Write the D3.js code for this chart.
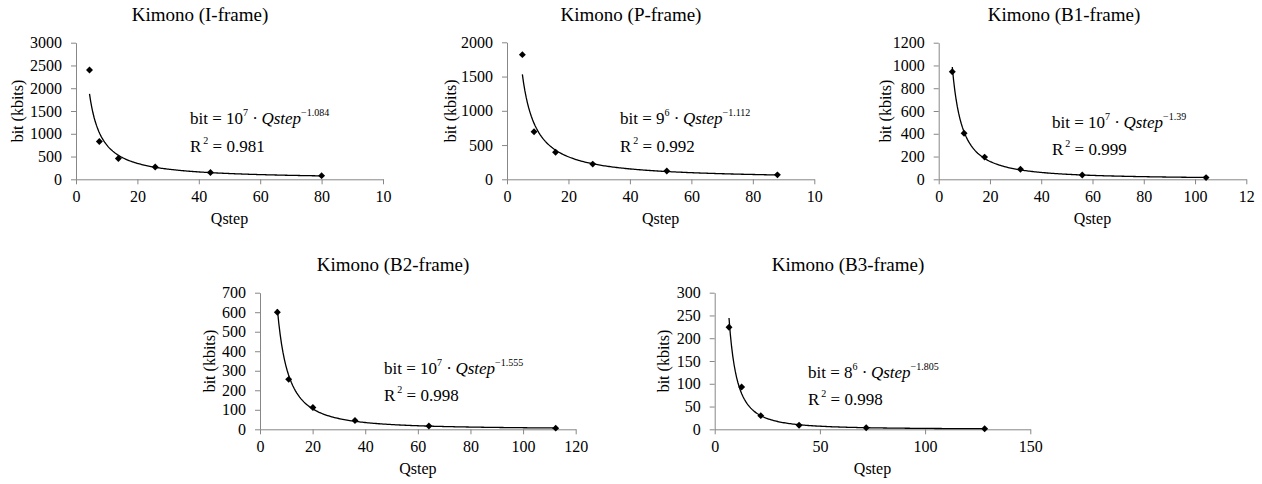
<!DOCTYPE html>
<html>
<head>
<meta charset="utf-8">
<script src="https://cdn.jsdelivr.net/npm/d3@7"></script>
<style>
  html, body { margin: 0; padding: 0; background: #fff; }
  svg { display: block; }
  svg text { font-family: "Liberation Serif", "Times New Roman", serif; fill: #000; }
</style>
</head>
<body>
<svg id="chart" width="1262" height="484" font-family="Liberation Serif, serif"></svg>
<script>
// ---------------- DATA ----------------
const panelTitles = ["Kimono (I-frame)", "Kimono (P-frame)", "Kimono (B1-frame)", "Kimono (B2-frame)", "Kimono (B3-frame)"];

const qstepI  = [4.4, 7.6, 13.8, 25.8, 43.8, 80.0];
const bitsI   = [2400, 830, 455, 270, 150, 80];

const qstepP  = [5.0, 8.8, 15.8, 27.9, 52.0, 88.0];
const bitsP   = [1820, 695, 395, 222, 120, 65];

const qstepB1 = [5.3, 9.9, 17.9, 31.9, 56.0, 104.3];
const bitsB1  = [945, 405, 195, 88, 38, 15];

const qstepB2 = [6.6, 10.9, 20.1, 36.1, 64.2, 112.4];
const bitsB2  = [600, 256, 112, 45, 17, 6];

const qstepB3 = [6.8, 12.8, 21.9, 40.1, 72.0, 128.3];
const bitsB3  = [224, 93, 30, 9, 3.5, 1.3];

const xTickValuesI  = [0, 20, 40, 60, 80, 100];
const xTickLabelsI  = ["0", "20", "40", "60", "80", "10"];
const xTickValuesB1 = [0, 20, 40, 60, 80, 100, 120];
const xTickLabelsB1 = ["0", "20", "40", "60", "80", "100", "12"];
const xTickLabelsB2 = ["0", "20", "40", "60", "80", "100", "120"];
const xTickValuesB3 = [0, 50, 100, 150];
const xTickLabelsB3 = ["0", "50", "100", "150"];

const yTicksI  = [0, 500, 1000, 1500, 2000, 2500, 3000];
const yTicksP  = [0, 500, 1000, 1500, 2000];
const yTicksB1 = [0, 200, 400, 600, 800, 1000, 1200];
const yTicksB2 = [0, 100, 200, 300, 400, 500, 600, 700];
const yTicksB3 = [0, 50, 100, 150, 200, 250, 300];

const eqBase     = ["10", "9", "10", "10", "8"];
const eqPower    = ["7", "6", "7", "7", "6"];
const eqExponent = ["\u22121.084", "\u22121.112", "\u22121.39", "\u22121.555", "\u22121.805"];
const rSquared   = ["0.981", "0.992", "0.999", "0.998", "0.998"];

const xAxisTitle = "Qstep";
const yAxisTitle = "bit (kbits)";

// ---------------- LAYOUT (positions only) ----------------
const layout = [
  { x0: 76,    x1: 383,    y0: 42.7,  y1: 179.3, titleX: 200,  titleY: 21,  ylabX: 18,  eqX: 190,  eqY: 124, r2Y: 152, xlabY: 224 },
  { x0: 507,   x1: 814.3,  y0: 42.3,  y1: 179.3, titleX: 631,  titleY: 21,  ylabX: 451, eqX: 620,  eqY: 124, r2Y: 152, xlabY: 224 },
  { x0: 938.7, x1: 1246.3, y0: 42.7,  y1: 179.3, titleX: 1064, titleY: 21,  ylabX: 886, eqX: 1052, eqY: 128, r2Y: 155, xlabY: 224 },
  { x0: 260,   x1: 575.7,  y0: 292.7, y1: 429.3, titleX: 393,  titleY: 271, ylabX: 210, eqX: 384,  eqY: 374, r2Y: 401, xlabY: 474 },
  { x0: 714.7, x1: 1030.3, y0: 292.7, y1: 429.3, titleX: 848,  titleY: 271, ylabX: 664, eqX: 808,  eqY: 378, r2Y: 405, xlabY: 474 }
];

const panels = [
  { q: qstepI,  b: bitsI,  xv: xTickValuesI,  xl: xTickLabelsI,  yt: yTicksI },
  { q: qstepP,  b: bitsP,  xv: xTickValuesI,  xl: xTickLabelsI,  yt: yTicksP },
  { q: qstepB1, b: bitsB1, xv: xTickValuesB1, xl: xTickLabelsB1, yt: yTicksB1 },
  { q: qstepB2, b: bitsB2, xv: xTickValuesB1, xl: xTickLabelsB2, yt: yTicksB2 },
  { q: qstepB3, b: bitsB3, xv: xTickValuesB3, xl: xTickLabelsB3, yt: yTicksB3 }
];

// power trendline (least squares in log-log space, as a spreadsheet power trendline does)
function powerFit(xs, ys) {
  const lx = xs.map(Math.log), ly = ys.map(Math.log);
  const mx = d3.mean(lx), my = d3.mean(ly);
  let sxy = 0, sxx = 0;
  for (let i = 0; i < lx.length; i++) { sxy += (lx[i] - mx) * (ly[i] - my); sxx += (lx[i] - mx) ** 2; }
  const bExp = sxy / sxx;
  const a = Math.exp(my - bExp * mx);
  return x => a * Math.pow(x, bExp);
}

const FONT = "Liberation Serif, Times New Roman, serif";
const svg = d3.select("#chart");
const axisColor = "#878787";

panels.forEach((p, i) => {
  const L = layout[i];
  const x = d3.scaleLinear().domain([p.xv[0], p.xv[p.xv.length - 1]]).range([L.x0, L.x1]);
  const y = d3.scaleLinear().domain([p.yt[0], p.yt[p.yt.length - 1]]).range([L.y1, L.y0]);
  const g = svg.append("g").attr("font-family", FONT);

  // axes
  const yAxis = d3.axisLeft(y).tickValues(p.yt).tickSize(5).tickSizeOuter(0).tickPadding(9).tickFormat(d3.format("d"));
  const gy = g.append("g").attr("transform", `translate(${L.x0},0)`).call(yAxis);
  const xAxis = d3.axisBottom(x).tickValues(p.xv).tickSize(5).tickSizeOuter(0).tickPadding(6)
    .tickFormat((d, k) => p.xl[k]);
  const gx = g.append("g").attr("transform", `translate(0,${L.y1})`).call(xAxis);
  [gx, gy].forEach(a => {
    a.attr("font-family", FONT).attr("font-size", 16);
    a.select(".domain").attr("stroke", axisColor).attr("stroke-width", 1);
    a.selectAll(".tick line").attr("stroke", axisColor).attr("stroke-width", 1);
    a.selectAll(".tick text").attr("font-family", FONT).attr("font-size", 16).attr("fill", "#000");
  });

  // trendline
  const f = powerFit(p.q, p.b);
  const qMin = d3.min(p.q), qMax = d3.max(p.q);
  const samples = d3.range(0, 201).map(k => qMin + (qMax - qMin) * k / 200);
  g.append("path")
    .datum(samples)
    .attr("fill", "none")
    .attr("stroke", "#000")
    .attr("stroke-width", 1.3)
    .attr("d", d3.line().x(d => x(d)).y(d => y(f(d))));

  // markers
  const diamond = d3.symbol().type(d3.symbolSquare).size(24);
  g.selectAll("path.pt")
    .data(p.q.map((q, k) => [q, p.b[k]]))
    .enter().append("path")
    .attr("class", "pt")
    .attr("d", diamond)
    .attr("transform", d => `translate(${x(d[0])},${y(d[1])}) rotate(45)`)
    .attr("fill", "#000");

  // title
  g.append("text").attr("x", L.titleX).attr("y", L.titleY)
    .attr("text-anchor", "middle").attr("font-size", 19).text(panelTitles[i]);

  // axis titles
  g.append("text").attr("x", (L.x0 + L.x1) / 2).attr("y", L.xlabY)
    .attr("text-anchor", "middle").attr("font-size", 16).text(xAxisTitle);
  g.append("text")
    .attr("transform", `translate(${L.ylabX + 5},${(L.y0 + L.y1) / 2}) rotate(-90)`)
    .attr("text-anchor", "middle").attr("font-size", 16).text(yAxisTitle);

  // equation
  const eq = g.append("text").attr("x", L.eqX).attr("y", L.eqY).attr("font-size", 17);
  eq.append("tspan").text("bit = " + eqBase[i]);
  eq.append("tspan").attr("dy", -8).attr("font-size", 10).text(eqPower[i]);
  eq.append("tspan").attr("dy", 8).text(" \u00B7\u2009");
  eq.append("tspan").attr("font-style", "italic").text("Qstep");
  eq.append("tspan").attr("dy", -8).attr("font-size", 10).text(eqExponent[i]);

  const r2 = g.append("text").attr("x", L.eqX).attr("y", L.r2Y).attr("font-size", 17);
  r2.append("tspan").text("R");
  r2.append("tspan").attr("dy", -8).attr("dx", 2).attr("font-size", 10).text("2");
  r2.append("tspan").attr("dy", 8).text(" = " + rSquared[i]);
});
</script>
</body>
</html>
